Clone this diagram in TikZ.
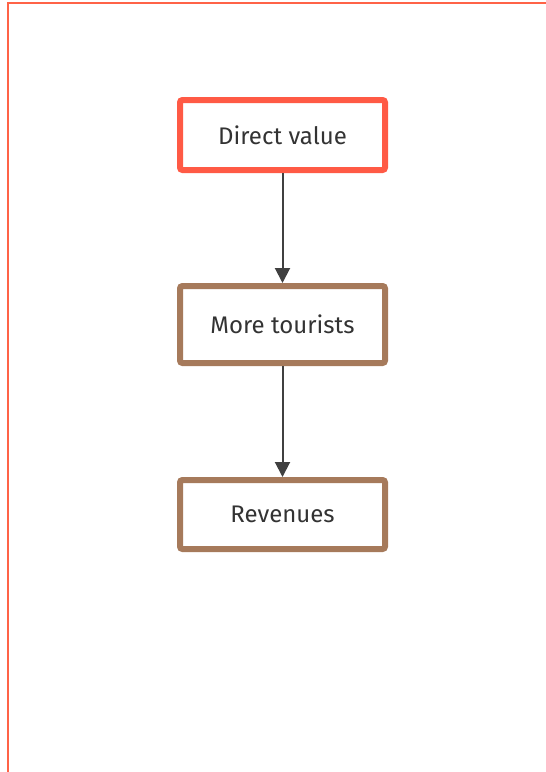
\documentclass[tikz,border=0pt]{standalone}
\usepackage{fontspec}
\setmainfont{Fira Sans}
\usetikzlibrary{arrows.meta}
\definecolor{framered}{HTML}{FF6347}
\definecolor{startred}{HTML}{FF5A45}
\definecolor{stepbrown}{HTML}{A67A5B}
\definecolor{linegray}{HTML}{404040}
\definecolor{textgray}{HTML}{333333}
\tikzset{
  x=1pt, y=-1pt,
  flowbox/.style={draw=stepbrown, line width=6pt, rounded corners=2.5pt, fill=white,
    minimum width=205pt, minimum height=70pt, inner sep=0pt,
    font=\fontsize{24}{28}\selectfont, text=textgray},
  startbox/.style={flowbox, draw=startred},
  flowarrow/.style={draw=linegray, line width=2pt,
    -{Triangle[length=15pt,width=15pt]}}
}
\begin{document}
\begin{tikzpicture}
  \useasboundingbox (0,0) rectangle (546,772);
  \begin{scope}
    \clip (0,0) rectangle (546,772);
    \draw[framered, line width=2.5pt] (8,3) rectangle (600,820);
  \end{scope}
  \node[startbox] (direct) at (282.5,135) {Direct value};
  \node[flowbox, minimum height=77pt] (tourists) at (282.5,324.5) {More tourists};
  \node[flowbox, minimum height=69pt] (revenues) at (282.5,514.5) {Revenues};
  \draw[flowarrow] (direct.south) -- (tourists.north);
  \draw[flowarrow] (tourists.south) -- (revenues.north);
\end{tikzpicture}
\end{document}
